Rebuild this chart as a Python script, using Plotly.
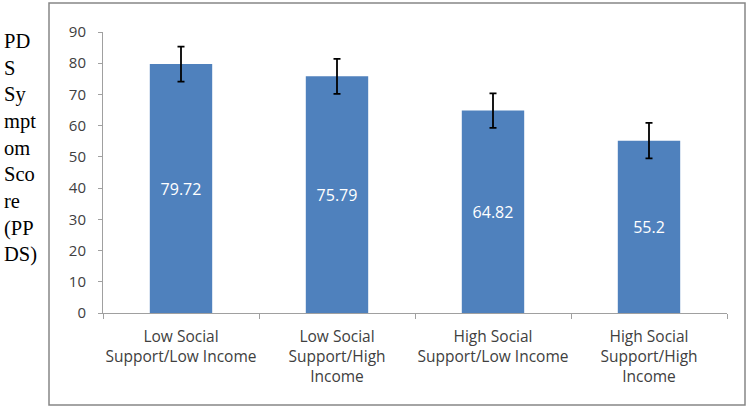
import plotly.graph_objects as go

categories = ["Low Social<br>Support/Low Income", "Low Social<br>Support/High<br>Income",
              "High Social<br>Support/Low Income", "High Social<br>Support/High<br>Income"]
scores = [79.72, 75.79, 64.82, 55.2]
errors = [5.6, 5.6, 5.5, 5.7]
score_labels = ["79.72", "75.79", "64.82", "55.2"]
y_ticks = [0, 10, 20, 30, 40, 50, 60, 70, 80, 90]
y_title = "PD<br>S<br>Sy<br>mpt<br>om<br>Sco<br>re<br>(PP<br>DS)"

fig = go.Figure(go.Bar(
    x=categories, y=scores,
    marker=dict(color="#4F81BD", line=dict(width=0)),
    width=0.4,
    text=score_labels, textposition="inside", insidetextanchor="middle",
    textangle=0,
    textfont=dict(family="Open Sans", size=16, color="white"),
    error_y=dict(type="data", array=errors, visible=True, color="black",
                 thickness=1.8, width=3.5),
))

W, H = 750, 409
L, R, T, B = 103, 23, 32, 96
pw, ph = W - L - R, H - T - B

def px(x):
    return (x - L) / pw

def py(y):
    return (H - B - y) / ph

fig.add_shape(type="rect", xref="paper", yref="paper",
              x0=px(49), x1=px(745), y0=py(405), y1=py(3),
              line=dict(color="#868686", width=1.5), fillcolor="rgba(0,0,0,0)")

fig.add_annotation(xref="paper", yref="paper", x=px(2), y=py(28),
                   xanchor="left", yanchor="top", align="left",
                   text=y_title, showarrow=False,
                   font=dict(family="Liberation Serif", size=20.5, color="black"))

fig.update_layout(
    width=W, height=H, margin=dict(l=L, r=R, t=T, b=B),
    plot_bgcolor="white", paper_bgcolor="white", showlegend=False,
    xaxis=dict(showline=True, linecolor="#A0A0A0", linewidth=1,
               ticks="outside", tickson="boundaries", ticklen=5, tickcolor="#A0A0A0",
               tickfont=dict(family="Open Sans", size=15.5, color="#404040"),
               tickangle=0, automargin=False,
               ticklabelstandoff=9, showgrid=False),
    yaxis=dict(range=[0, 90], tickvals=y_ticks, showline=True, linecolor="#A0A0A0",
               linewidth=1, ticks="outside", ticklen=4, tickcolor="#A0A0A0",
               tickfont=dict(family="Open Sans", size=15, color="#404040"),
               automargin=False,
               ticklabelstandoff=9, showgrid=False, zeroline=False),
)

fig.write_html("out.html", config={"displayModeBar": False},
               post_script="document.body.style.margin='0';document.body.style.overflow='hidden';")
